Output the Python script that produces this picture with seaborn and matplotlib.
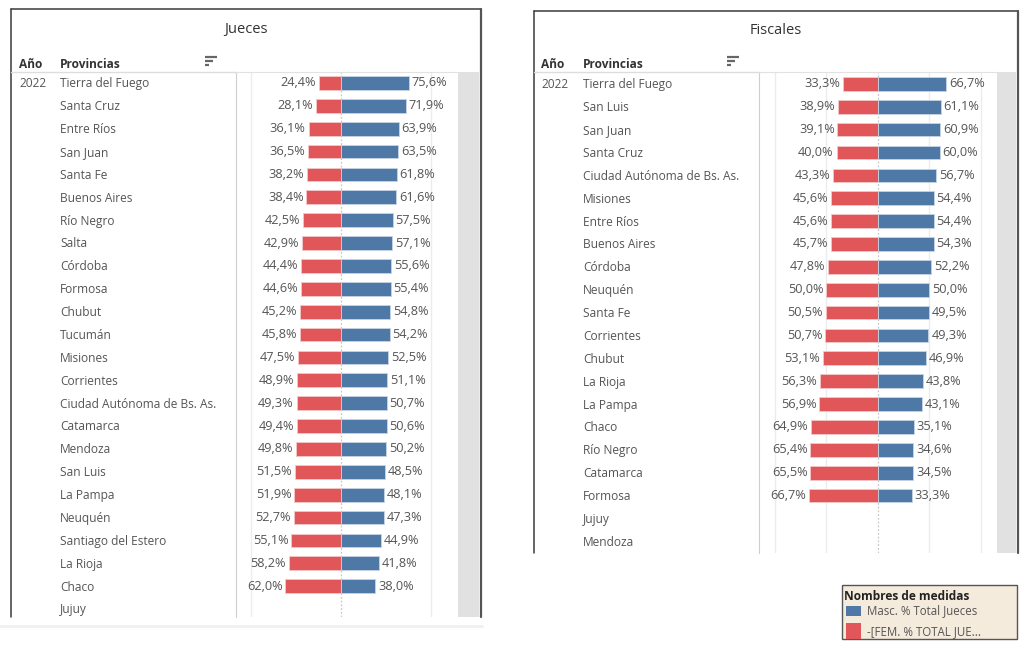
import matplotlib
matplotlib.use("Agg")
import matplotlib.pyplot as plt
import seaborn as sns
import pandas as pd
import numpy as np
from matplotlib.patches import Rectangle
from matplotlib.transforms import blended_transform_factory

nan = np.nan

# ---------------- data ----------------
anio = "2022"

jueces_prov = ["Tierra del Fuego", "Santa Cruz", "Entre Ríos", "San Juan", "Santa Fe",
               "Buenos Aires", "Río Negro", "Salta", "Córdoba", "Formosa", "Chubut",
               "Tucumán", "Misiones", "Corrientes", "Ciudad Autónoma de Bs. As.",
               "Catamarca", "Mendoza", "San Luis", "La Pampa", "Neuquén",
               "Santiago del Estero", "La Rioja", "Chaco", "Jujuy"]
jueces_fem = [24.4, 28.1, 36.1, 36.5, 38.2, 38.4, 42.5, 42.9, 44.4, 44.6, 45.2, 45.8,
              47.5, 48.9, 49.3, 49.4, 49.8, 51.5, 51.9, 52.7, 55.1, 58.2, 62.0, nan]
jueces_masc = [75.6, 71.9, 63.9, 63.5, 61.8, 61.6, 57.5, 57.1, 55.6, 55.4, 54.8, 54.2,
               52.5, 51.1, 50.7, 50.6, 50.2, 48.5, 48.1, 47.3, 44.9, 41.8, 38.0, nan]

fiscales_prov = ["Tierra del Fuego", "San Luis", "San Juan", "Santa Cruz",
                 "Ciudad Autónoma de Bs. As.", "Misiones", "Entre Ríos", "Buenos Aires",
                 "Córdoba", "Neuquén", "Santa Fe", "Corrientes", "Chubut", "La Rioja",
                 "La Pampa", "Chaco", "Río Negro", "Catamarca", "Formosa", "Jujuy",
                 "Mendoza", "Salta"]
fiscales_fem = [33.3, 38.9, 39.1, 40.0, 43.3, 45.6, 45.6, 45.7, 47.8, 50.0, 50.5, 50.7,
                53.1, 56.3, 56.9, 64.9, 65.4, 65.5, 66.7, nan, nan, nan]
fiscales_masc = [66.7, 61.1, 60.9, 60.0, 56.7, 54.4, 54.4, 54.3, 52.2, 50.0, 49.5, 49.3,
                 46.9, 43.8, 43.1, 35.1, 34.6, 34.5, 33.3, nan, nan, nan]

titles = ["Jueces", "Fiscales"]
header_cols = ["Año", "Provincias"]
legend_title = "Nombres de medidas"
legend_labels = ["Masc. % Total Jueces", "-[FEM. % TOTAL JUE..."]

BLUE = "#4E79A7"
RED = "#E15759"

# ---------------- style ----------------
sns.set_style("white")
plt.rcParams["font.family"] = ["Open Sans", "DejaVu Sans"]

W, H = 1024, 647
fig = plt.figure(figsize=(W / 100, H / 100), dpi=100)


def rect(x0, y0, x1, y1):
    return [x0 / W, 1 - y1 / H, (x1 - x0) / W, (y1 - y0) / H]


bg = fig.add_axes([0, 0, 1, 1], zorder=0)
bg.set_xlim(0, W)
bg.set_ylim(H, 0)
bg.axis("off")

TXT = "#555555"
HDR = "#333333"


def fmt_pct(v):
    return f"{abs(v):.1f}%".replace(".", ",")


def panel(prov, fem, masc, box, pane_x, zero_x, scale, ticks, ylim, title, title_x,
          col_x, sort_x, title_y):
    x0, y0, x1, y1 = box
    px0, px1 = pane_x
    pane_top = 72
    # frame
    bg.plot([x0, x0], [y0, y1], color="#3a3a3a", lw=1.1)
    bg.plot([x0, x1], [y0, y0], color="#3a3a3a", lw=1.1)
    bg.plot([x1, x1], [y0, y1], color="#555555", lw=1.6)
    # title + headers
    bg.text(title_x, title_y, title, ha="center", va="center", fontsize=10.5, color=HDR)
    bg.text(col_x[0], pane_top - 8, header_cols[0], ha="left", va="center",
            fontsize=8.6, fontweight="bold", color=HDR)
    bg.text(col_x[1], pane_top - 8, header_cols[1], ha="left", va="center",
            fontsize=8.6, fontweight="bold", color=HDR)
    for k, ln in enumerate([12, 8, 4]):
        bg.plot([sort_x, sort_x + ln], [57 + 4 * k, 57 + 4 * k], color="#666666",
                lw=1.6, solid_capstyle="butt")
    bg.plot([x0, px0], [pane_top, pane_top], color="#dddddd", lw=1)
    # scrollbar
    bg.add_patch(Rectangle((px1, pane_top), x1 - px1 - 2, y1 - pane_top,
                           facecolor="#e1e1e1", edgecolor="none"))

    # label column
    lab = fig.add_axes(rect(x0 + 1, pane_top, px0, y1), zorder=1)
    lab.set_ylim(*ylim)
    lab.axis("off")
    tr = blended_transform_factory(bg.transData, lab.transData)
    lab.text(col_x[0], 0.04, anio, transform=tr, ha="left", va="center",
             fontsize=8.6, color=TXT, clip_on=True)
    for i, p in enumerate(prov):
        lab.text(col_x[1], i + 0.04, p, transform=tr, ha="left", va="center",
                 fontsize=8.6, color=TXT, clip_on=True)

    # bars
    ax = fig.add_axes(rect(px0, pane_top, px1, y1), zorder=1)
    df = pd.DataFrame({"prov": prov, "fem": fem, "masc": masc}).dropna()
    df["fem_neg"] = -df["fem"]
    sns.barplot(data=df, x="fem_neg", y="prov", order=prov, orient="h", color=RED,
                saturation=1, width=0.6, errorbar=None, ax=ax,
                edgecolor="#f3c9ca", linewidth=0.6)
    sns.barplot(data=df, x="masc", y="prov", order=prov, orient="h", color=BLUE,
                saturation=1, width=0.6, errorbar=None, ax=ax,
                edgecolor="#c7d4e4", linewidth=0.6)
    for c in ax.containers:
        ax.bar_label(c, fmt=fmt_pct, padding=2, fontsize=9.2, color=TXT)
    ax.set_xlim((px0 - zero_x) / scale, (px1 - zero_x) / scale)
    ax.set_ylim(*ylim)
    ax.set_xticks(ticks)
    ax.grid(axis="x", color="#ececec", lw=1)
    ax.grid(axis="y", visible=False)
    ax.axvline(0, color="#c8c8c8", lw=0.9, ls=(0, (1.5, 1.5)), zorder=0.5)
    ax.set(xlabel="", ylabel="")
    ax.tick_params(left=False, bottom=False, labelleft=False, labelbottom=False)
    for s in ["right", "bottom"]:
        ax.spines[s].set_visible(False)
    ax.spines["left"].set_color("#cfcfcf")
    ax.spines["top"].set_color("#e2e2e2")
    ax.set_axisbelow(True)


panel(jueces_prov, jueces_fem, jueces_masc, box=(11, 9, 481, 617), pane_x=(236, 458),
      zero_x=341, scale=0.9, ticks=[-100, 100], ylim=(23.35, -0.48), title=titles[0],
      title_x=246, col_x=(19, 60), sort_x=205, title_y=29.5)
panel(fiscales_prov, fiscales_fem, fiscales_masc, box=(534, 11, 1018, 553),
      pane_x=(759, 997), zero_x=877.7, scale=1.03, ticks=[-100, -50, 50, 100],
      ylim=(20.51, -0.52), title=titles[1], title_x=776, col_x=(541, 583), sort_x=727,
      title_y=30.5)

# faint separator below left panel
bg.plot([0, 482], [626, 626], color="#f0f0f0", lw=2)

# legend
bg.add_patch(Rectangle((842, 585), 175, 54, facecolor="#F5EBDC", edgecolor="#555555",
                       lw=1))
bg.text(844, 596, legend_title, ha="left", va="center", fontsize=8.6,
        fontweight="bold", color="#222222")
bg.add_patch(Rectangle((846, 606), 15, 10, facecolor=BLUE, edgecolor="none"))
bg.text(867, 611, legend_labels[0], ha="left", va="center", fontsize=8.3, color=TXT)
bg.add_patch(Rectangle((846, 623), 15, 15.5, facecolor=RED, edgecolor="none"))
bg.text(867, 632, legend_labels[1], ha="left", va="center", fontsize=8.3, color=TXT)

fig.savefig("out.png", dpi=100)
